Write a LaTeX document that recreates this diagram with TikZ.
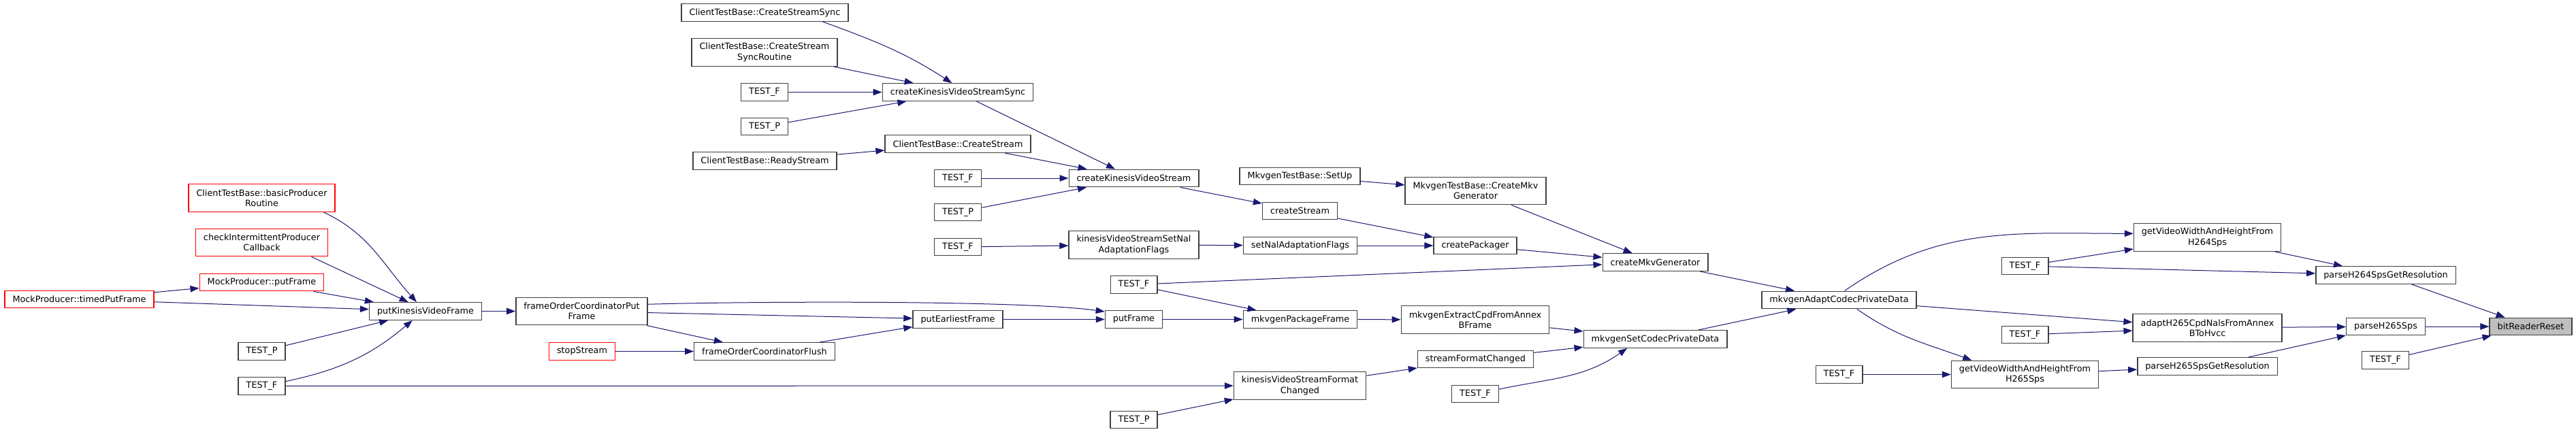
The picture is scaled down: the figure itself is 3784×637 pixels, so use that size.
\documentclass[tikz,border=0pt]{standalone}
\usepackage{fontspec}
\setmainfont{DejaVu Sans}
\usetikzlibrary{arrows.meta}
\definecolor{midnight}{HTML}{191970}
\definecolor{selgray}{HTML}{BFBFBF}

\begin{document}
\begin{tikzpicture}[
    x=1pt,y=1pt,
    >={Triangle[length=13pt,width=9.5pt]},
    fn/.style={
        draw=black!75,
        fill=white,
        line width=1.4pt,
        minimum height=25.5pt,
        inner xsep=11.5pt,
        inner ysep=0pt,
        font=\fontsize{12.8}{15.3}\selectfont,
        align=center
    },
    fn2/.style={fn, minimum height=40.5pt},
    trunc/.style={draw=red},
    sel/.style={fill=selgray},
    call/.style={->, line width=1pt, draw=midnight}
]

    \useasboundingbox (0,0) rectangle (3784,-637);

    % stream creation
    \node[fn] (css) at (1123.5,-18.5) {ClientTestBase::CreateStreamSync};
    \node[fn2] (cssr) at (1123,-77) {ClientTestBase::CreateStream\\SyncRoutine};
    \node[fn] (tfa) at (1123,-135.5) {TEST\_F};
    \node[fn] (tpa) at (1123,-186) {TEST\_P};
    \node[fn] (rs) at (1123.5,-236.5) {ClientTestBase::ReadyStream};

    \node[fn] (ckvss) at (1407,-135.5) {createKinesisVideoStreamSync};
    \node[fn] (ctbcs) at (1407,-211.5) {ClientTestBase::CreateStream};
    \node[fn] (tfb) at (1407,-262) {TEST\_F};
    \node[fn] (tpb) at (1407,-312) {TEST\_P};
    \node[fn] (tfc) at (1407,-363) {TEST\_F};

    \node[fn] (ckvs) at (1665.5,-262) {createKinesisVideoStream};
    \node[fn2] (kvssnaf) at (1665.5,-360) {kinesisVideoStreamSetNal\\AdaptationFlags};

    \node[fn] (mtbsu) at (1909.5,-259) {MkvgenTestBase::SetUp};
    \node[fn] (cs) at (1909.5,-310) {createStream};
    \node[fn] (snaf) at (1910,-361) {setNalAdaptationFlags};

    \node[fn2] (mtbcmg) at (2167.5,-280.5) {MkvgenTestBase::CreateMkv\\Generator};
    \node[fn] (cp) at (2167,-361) {createPackager};
    \node[fn] (cmg) at (2431.5,-385.5) {createMkvGenerator};

    \draw[call] (css.-9) to[out=-20,in=147] (ckvss.123);
    \draw[call] (cssr) -- (ckvss);
    \draw[call] (tfa) -- (ckvss);
    \draw[call] (tpa) -- (ckvss);
    \draw[call] (rs) -- (ctbcs);
    \draw[call] (ckvss) -- (ckvs);
    \draw[call] (ctbcs) -- (ckvs);
    \draw[call] (tfb) -- (ckvs);
    \draw[call] (tpb) -- (ckvs);
    \draw[call] (tfc) -- (kvssnaf);
    \draw[call] (ckvs) -- (cs);
    \draw[call] (kvssnaf) -- (snaf);
    \draw[call] (mtbsu) -- (mtbcmg);
    \draw[call] (cs) -- (cp);
    \draw[call] (snaf) -- (cp);
    \draw[call] (mtbcmg) -- (cmg);
    \draw[call] (cp) -- (cmg);

    % producer side
    \node[fn2, trunc] (bpr) at (384.5,-291) {ClientTestBase::basicProducer\\Routine};
    \node[fn2, trunc] (cipc) at (384.5,-356.5) {checkIntermittentProducer\\Callback};
    \node[fn, trunc] (mppf) at (384.5,-415) {MockProducer::putFrame};
    \node[fn, trunc] (mptpf) at (116.5,-440) {MockProducer::timedPutFrame};
    \node[fn] (tpd) at (384.5,-516.5) {TEST\_P};
    \node[fn] (tfd) at (384.5,-567.5) {TEST\_F};
    \node[fn] (pkvf) at (625,-457.5) {putKinesisVideoFrame};

    \node[fn2] (focpf) at (854.5,-457.5) {frameOrderCoordinatorPut\\Frame};
    \node[fn, trunc] (ss) at (855,-516.5) {stopStream};
    \node[fn] (focf) at (1123,-516.5) {frameOrderCoordinatorFlush};
    \node[fn] (pef) at (1407,-469.5) {putEarliestFrame};

    \node[fn] (tfe) at (1665.5,-418.5) {TEST\_F};
    \node[fn] (pf) at (1665.5,-469.5) {putFrame};
    \node[fn] (tpf) at (1665.5,-617) {TEST\_P};
    \node[fn] (mpf) at (1910,-469.5) {mkvgenPackageFrame};
    \node[fn2] (kvssfc) at (1909.5,-567) {kinesisVideoStreamFormat\\Changed};

    \node[fn2] (mecfabf) at (2167,-470) {mkvgenExtractCpdFromAnnex\\BFrame};
    \node[fn] (sfc) at (2167.5,-528) {streamFormatChanged};
    \node[fn] (tff) at (2167,-579) {TEST\_F};
    \node[fn] (mscpd) at (2431.5,-498.5) {mkvgenSetCodecPrivateData};

    \draw[call] (bpr.-13) to[out=-25,in=132] (pkvf.134);
    \draw[call] (cipc.-16) -- (pkvf.152);
    \draw[call] (mppf) -- (pkvf);
    \draw[call] (mptpf) -- (mppf);
    \draw[call] (mptpf) -- (pkvf);
    \draw[call] (tpd) -- (pkvf);
    \draw[call] (tfd.11) to[out=12,in=-140] (pkvf.-145);
    \draw[call] (tfd) -- (kvssfc);
    \draw[call] (pkvf) -- (focpf);
    \draw[call] (focpf.6) .. controls (1100,-443) and (1500,-441) .. (pf.165);
    \draw[call] (focpf) -- (pef);
    \draw[call] (focpf) -- (focf);
    \draw[call] (ss) -- (focf);
    \draw[call] (focf) -- (pef);
    \draw[call] (pef) -- (pf);
    \draw[call] (pf) -- (mpf);
    \draw[call] (tfe) -- (mpf);
    \draw[call] (tfe) -- (cmg);
    \draw[call] (mpf) -- (mecfabf);
    \draw[call] (mecfabf) -- (mscpd);
    \draw[call] (sfc) -- (mscpd);
    \draw[call] (tff.11) to[out=12,in=-145] (mscpd.-162);
    \draw[call] (kvssfc) -- (sfc);
    \draw[call] (tpf) -- (kvssfc);

    % codec data and sps parsing
    \node[fn] (macpd) at (2701.5,-441) {mkvgenAdaptCodecPrivateData};
    \node[fn] (tfj) at (2701.5,-550.5) {TEST\_F};
    \node[fn] (tfg) at (2974.5,-391) {TEST\_F};
    \node[fn] (tfh) at (2974.5,-492) {TEST\_F};
    \node[fn2] (gvwh265) at (2974.5,-550.5) {getVideoWidthAndHeightFrom\\H265Sps};
    \node[fn2] (gvwh264) at (3242.5,-349) {getVideoWidthAndHeightFrom\\H264Sps};
    \node[fn2] (ah265) at (3242.5,-482) {adaptH265CpdNalsFromAnnex\\BToHvcc};
    \node[fn] (p265gr) at (3242.5,-538.5) {parseH265SpsGetResolution};
    \node[fn] (p264) at (3504.5,-404.5) {parseH264SpsGetResolution};
    \node[fn] (p265) at (3504.5,-480) {parseH265Sps};
    \node[fn] (tfi) at (3504,-529.5) {TEST\_F};
    \node[fn, sel] (brr) at (3717.5,-480) {bitReaderReset};

    \draw[call] (cmg) -- (macpd);
    \draw[call] (mscpd) -- (macpd);
    \draw[call] (macpd.59) to[out=35,in=180] (gvwh264.177);
    \draw[call] (macpd) -- (ah265);
    \draw[call] (macpd.-27) to[out=-35,in=160] (gvwh265.165);
    \draw[call] (tfg) -- (gvwh264);
    \draw[call] (tfg) -- (p264);
    \draw[call] (gvwh264) -- (p264);
    \draw[call] (tfh) -- (ah265);
    \draw[call] (ah265) -- (p265);
    \draw[call] (tfj) -- (gvwh265);
    \draw[call] (gvwh265) -- (p265gr);
    \draw[call] (p265gr) -- (p265);
    \draw[call] (p264) -- (brr);
    \draw[call] (p265) -- (brr);
    \draw[call] (tfi) -- (brr);

\end{tikzpicture}
\end{document}
